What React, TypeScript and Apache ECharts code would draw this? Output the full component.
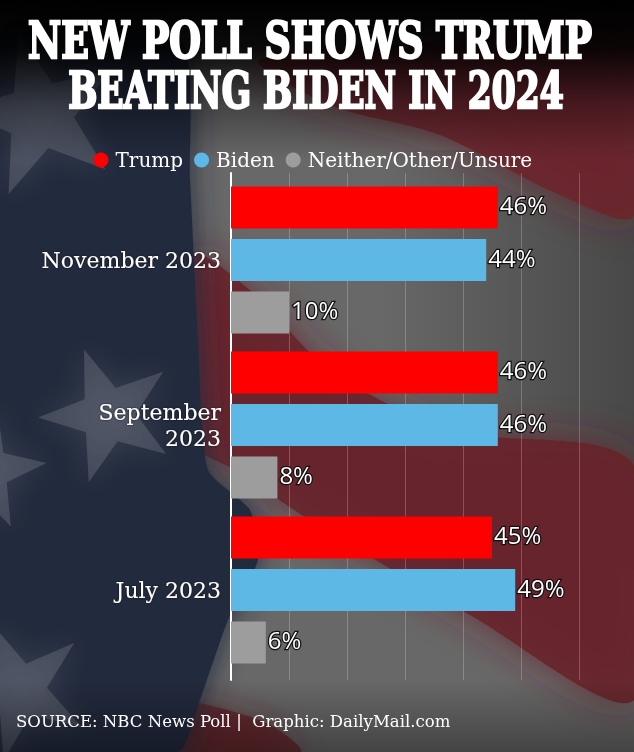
import React, { useEffect, useRef } from "react";
import * as echarts from "echarts";

const categories = ["November 2023", "September 2023", "July 2023"];
const trumpValues = [46, 46, 45];
const bidenValues = [44, 46, 49];
const neitherValues = [10, 8, 6];
const seriesNames = ["Trump", "Biden", "Neither/Other/Unsure"];
const seriesColors = ["#ff0000", "#5db8e6", "#9d9d9d"];
const xMin = 0;
const xMax = 60;
const xInterval = 10;

const titleLines = ["NEW POLL SHOWS TRUMP", "BEATING BIDEN IN 2024"];
const sourceText = "SOURCE: NBC News Poll |  Graphic: DailyMail.com";

function measure(text: string, font: string): number {
  const c = document.createElement("canvas");
  const ctx = c.getContext("2d");
  if (!ctx) return 1;
  ctx.font = font;
  return ctx.measureText(text).width || 1;
}

function starPoints(cx: number, cy: number, R: number, r: number, rot: number) {
  const pts: number[][] = [];
  for (let i = 0; i < 10; i++) {
    const a = rot + (i * Math.PI) / 5 - Math.PI / 2;
    const rad = i % 2 === 0 ? R : r;
    pts.push([cx + rad * Math.cos(a), cy + rad * Math.sin(a)]);
  }
  return pts;
}

function buildBackground() {
  const W = 634;
  const H = 752;
  const els: any[] = [];
  let z = -60;
  const add = (e: any) => {
    els.push({ ...e, z: z++, silent: true });
  };
  // base gray
  add({ type: "rect", shape: { x: 0, y: 0, width: W, height: H }, style: { fill: "#686868" } });
  // darker gray on right middle
  add({
    type: "rect",
    shape: { x: 380, y: 150, width: 254, height: 420 },
    style: {
      fill: new echarts.graphic.LinearGradient(0, 0, 1, 0, [
        { offset: 0, color: "rgba(40,40,40,0)" },
        { offset: 1, color: "rgba(40,40,40,0.5)" },
      ]),
    },
  });
  // top right red stripe
  add({
    type: "polygon",
    shape: {
      points: [[260, 60], [450, 40], [634, 10], [634, 215], [560, 195], [440, 135], [330, 105]],
      smooth: 0.3,
    },
    style: { fill: "rgba(108,36,42,0.85)", shadowBlur: 40, shadowColor: "rgba(108,36,42,0.85)" },
  });
  // middle red stripe
  add({
    type: "polygon",
    shape: {
      points: [
        [190, 255], [250, 290], [330, 370], [450, 430], [634, 465],
        [634, 700], [470, 615], [310, 520], [235, 470], [190, 440],
      ],
      smooth: 0.3,
    },
    style: { fill: "rgba(104,36,42,0.88)", shadowBlur: 40, shadowColor: "rgba(104,36,42,0.85)" },
  });
  // bottom red bit
  add({
    type: "polygon",
    shape: { points: [[150, 700], [260, 720], [300, 752], [150, 752]], smooth: 0.3 },
    style: { fill: "rgba(100,32,38,0.75)", shadowBlur: 30, shadowColor: "rgba(100,32,38,0.75)" },
  });
  // navy canton
  add({
    type: "polygon",
    shape: {
      points: [
        [0, 30], [180, 40], [190, 180], [198, 340], [208, 470], [250, 510],
        [258, 560], [228, 620], [200, 700], [178, 752], [0, 752],
      ],
      smooth: 0.2,
    },
    style: { fill: "#232c3c", shadowBlur: 30, shadowColor: "#232c3c" },
  });
  // stars
  const stars = [
    { cx: 40, cy: 115, R: 85, r: 34, rot: -0.25 },
    { cx: 108, cy: 415, R: 70, r: 28, rot: -0.35 },
    { cx: -15, cy: 470, R: 62, r: 25, rot: 0.2 },
    { cx: 20, cy: 690, R: 72, r: 27, rot: -0.4 },
  ];
  stars.forEach((s) => {
    add({
      type: "polygon",
      shape: { points: starPoints(s.cx, s.cy, s.R, s.r, s.rot) },
      style: { fill: "rgba(125,130,140,0.35)", shadowBlur: 28, shadowColor: "rgba(125,130,140,0.7)" },
    });
  });
  // top dark overlay
  add({
    type: "rect",
    shape: { x: 0, y: 0, width: W, height: 160 },
    style: {
      fill: new echarts.graphic.LinearGradient(0, 0, 0, 1, [
        { offset: 0, color: "rgba(0,0,0,1)" },
        { offset: 0.3, color: "rgba(0,0,0,0.9)" },
        { offset: 0.65, color: "rgba(0,0,0,0.35)" },
        { offset: 1, color: "rgba(0,0,0,0)" },
      ]),
    },
  });
  // bottom dark overlay
  add({
    type: "rect",
    shape: { x: 0, y: 680, width: W, height: 72 },
    style: {
      fill: new echarts.graphic.LinearGradient(0, 0, 0, 1, [
        { offset: 0, color: "rgba(0,0,0,0)" },
        { offset: 1, color: "rgba(0,0,0,0.35)" },
      ]),
    },
  });
  return els;
}

function buildTexts() {
  const titleFont = 'bold 51px "DejaVu Serif Condensed", "DejaVu Serif", serif';
  const s1 = 564 / measure(titleLines[0], titleFont);
  const s2 = 496 / measure(titleLines[1], titleFont);
  const srcFont = '16px "DejaVu Serif", serif';
  const s3 = 435 / measure(sourceText, srcFont);
  const titleStyle = {
    font: titleFont,
    fill: "#ffffff",
    stroke: "#ffffff",
    lineWidth: 2.4,
    align: "center",
    verticalAlign: "middle",
    shadowColor: "rgba(0,0,0,0.7)",
    shadowBlur: 4,
    shadowOffsetY: 2,
  };
  return [
    { type: "text", x: 310, y: 40, scaleX: s1, z: 20, style: { ...titleStyle, text: titleLines[0] } },
    { type: "text", x: 316, y: 90.5, scaleX: s2, z: 20, style: { ...titleStyle, text: titleLines[1] } },
    {
      type: "text",
      x: 16,
      y: 722,
      scaleX: s3,
      z: 20,
      style: { text: sourceText, font: srcFont, fill: "#ffffff", align: "left", verticalAlign: "middle" },
    },
  ];
}

export default function App() {
  const ref = useRef<HTMLDivElement>(null);
  useEffect(() => {
    if (!ref.current) return;
    const chart = echarts.init(ref.current, undefined, { renderer: "svg" });
    const valueSets = [trumpValues, bidenValues, neitherValues];
    const labelStyle = {
      show: true,
      position: "right",
      distance: 2,
      offset: [0, -3],
      formatter: "{c}%",
      color: "#ffffff",
      fontFamily: "'Open Sans', 'Noto Sans', sans-serif",
      fontSize: 24,
      textBorderColor: "rgba(15,15,15,0.95)",
      textBorderWidth: 2.5,
    };
    chart.setOption({
      animation: false,
      backgroundColor: "transparent",
      graphic: [...buildBackground(), ...buildTexts()],
      legend: {
        data: seriesNames,
        left: 88.5,
        top: 145,
        icon: "circle",
        itemWidth: 15,
        itemHeight: 15,
        itemGap: 11,
        textStyle: {
          color: "#ffffff",
          fontFamily: "'DejaVu Serif', serif",
          fontSize: 20,
          padding: [0, 0, 0, 2],
        },
      },
      grid: [
        { left: 231, top: 177.5, width: 348, height: 495 },
        { left: 231, top: 173, width: 348, height: 507 },
      ],
      xAxis: [
        { gridIndex: 0, type: "value", min: xMin, max: xMax, interval: xInterval, show: false },
        {
          gridIndex: 1,
          type: "value",
          min: xMin,
          max: xMax,
          interval: xInterval,
          axisLine: { show: false },
          axisTick: { show: false },
          axisLabel: { show: false },
          splitLine: { show: true, lineStyle: { color: "rgba(255,255,255,0.22)", width: 1 } },
        },
      ],
      yAxis: [
        {
          gridIndex: 0,
          type: "category",
          inverse: true,
          data: categories,
          axisLine: { show: false },
          axisTick: {
            show: true,
            length: 186,
            lineStyle: { color: "#ffffff", width: 2, shadowColor: "rgba(0,0,0,0.85)", shadowOffsetY: 1.5, shadowBlur: 1 },
          },
          axisLabel: {
            color: "#ffffff",
            fontFamily: "'DejaVu Serif', serif",
            fontSize: 22,
            lineHeight: 26,
            margin: 10,
            align: "right",
            textShadowColor: "rgba(0,0,0,0.7)",
            textShadowBlur: 2,
            formatter: (v: string) => (v.length > 13 ? v.replace(" ", "\n") : v),
          },
          splitLine: { show: false },
        },
        {
          gridIndex: 1,
          type: "value",
          min: 0,
          max: 1,
          axisLine: { show: true, lineStyle: { color: "#ffffff", width: 2 } },
          axisTick: { show: false },
          axisLabel: { show: false },
          splitLine: { show: false },
        },
      ],
      series: seriesNames.map((name, i) => ({
        name,
        type: "bar",
        xAxisIndex: 0,
        yAxisIndex: 0,
        data: valueSets[i],
        barWidth: 42,
        barGap: "25%",
        itemStyle: { color: seriesColors[i] },
        label: labelStyle,
        z: 3,
      })),
    });
    return () => chart.dispose();
  }, []);
  return (
    <div
      ref={ref}
      style={{ position: "fixed", left: 0, top: 0, width: 634, height: 752, overflow: "hidden" }}
    />
  );
}
